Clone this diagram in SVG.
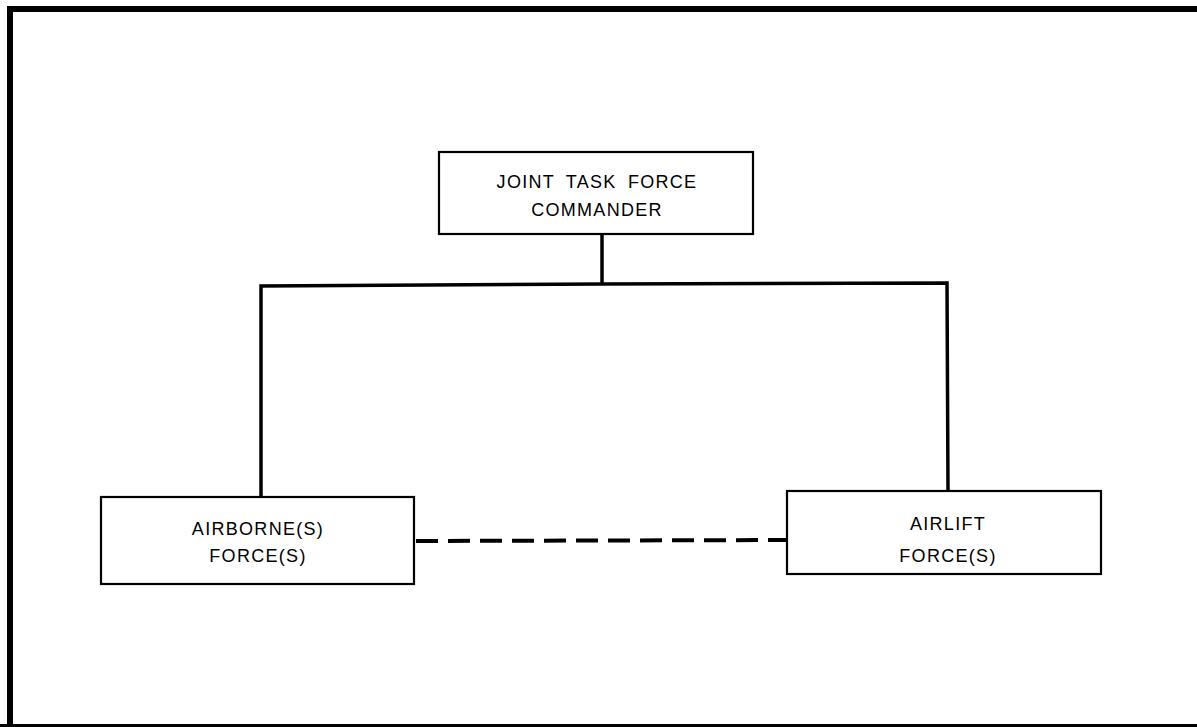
<svg xmlns="http://www.w3.org/2000/svg" width="1197" height="727" viewBox="0 0 1197 727">
<style>
.box{fill:#fff;stroke:#000;stroke-width:2.2}
.ln{fill:none;stroke:#000;stroke-width:3.5;stroke-linejoin:miter}
.dash{fill:none;stroke:#000;stroke-width:4;stroke-dasharray:22 10}
.t{font-family:"Liberation Sans",Arial,sans-serif;font-size:18px;letter-spacing:1.3px;word-spacing:5px;fill:#000;text-anchor:middle}
</style>
<rect width="1197" height="727" fill="#fff"/>
<g id="frame">
<path d="M10,730 L10,9 L1200,9" fill="none" stroke="#000" stroke-width="6"/>
<line x1="0" y1="725.5" x2="1197" y2="725.5" stroke="#000" stroke-width="3"/>
</g>
<g id="connectors">
<path class="ln" d="M602,234 L602,284"/>
<path class="ln" d="M261,497 L261,286 L602,284 L947,283 L948,491"/>
<path class="dash" d="M416,541 L787,540"/>
</g>
<g id="jtf">
<rect class="box" x="439" y="152" width="314" height="82"/>
<text class="t" x="597" y="188">JOINT TASK FORCE</text>
<text class="t" x="597" y="216">COMMANDER</text>
</g>
<g id="airborne">
<rect class="box" x="101" y="497" width="313" height="87"/>
<text class="t" x="258" y="535">AIRBORNE(S)</text>
<text class="t" x="258" y="562">FORCE(S)</text>
</g>
<g id="airlift">
<rect class="box" x="787" y="491" width="314" height="83"/>
<text class="t" x="948" y="530">AIRLIFT</text>
<text class="t" x="948" y="562">FORCE(S)</text>
</g>
</svg>
